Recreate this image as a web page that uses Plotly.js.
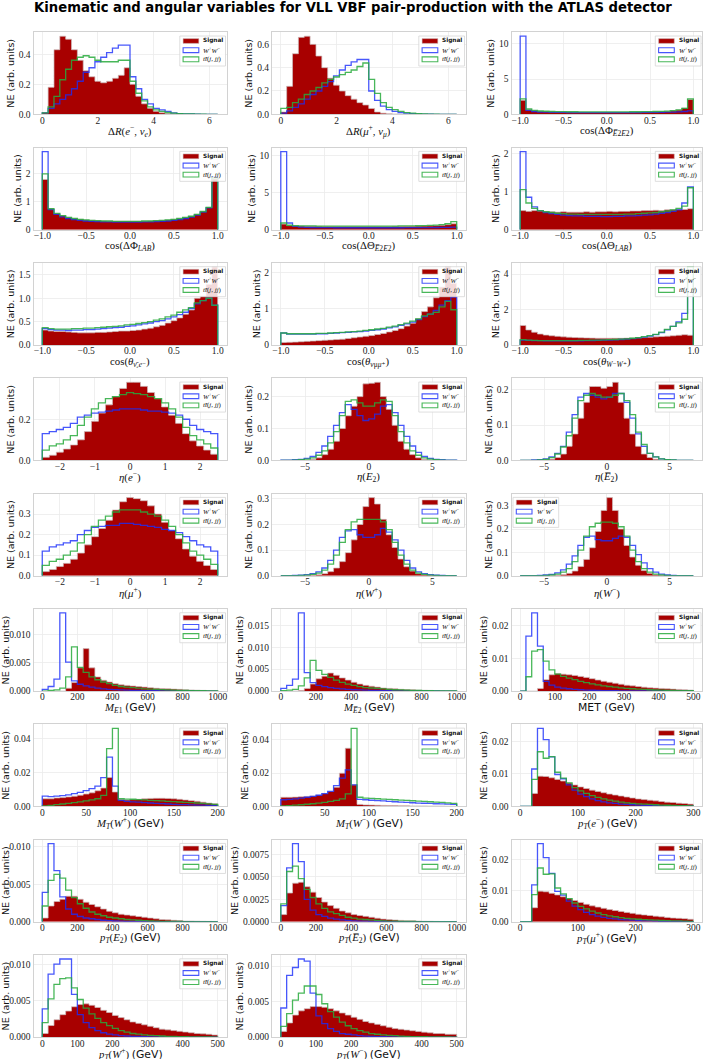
<!DOCTYPE html>
<html>
<head>
<meta charset="utf-8">
<script src="https://cdn.plot.ly/plotly-3.0.1.min.js"></script>
<style>body{margin:0;background:#fff}</style>
</head>
<body>
<div id="fig" style="width:706px;height:1059px"></div>
<script>
// Bin contents (30 bins unless noted)
// Delta R(e-, nu_e), bins 0..6.3
const dRe_sig = [0.01, 0.18, 0.43, 0.52, 0.50, 0.43, 0.36, 0.29, 0.25, 0.22, 0.21, 0.22, 0.24, 0.26, 0.31, 0.20, 0.12, 0.07, 0.04, 0.02, 0.01, 0.005, 0.003, 0.002, 0.001, 0.001, 0, 0, 0, 0];
const dRe_ww = [0.01, 0.04, 0.07, 0.10, 0.13, 0.17, 0.22, 0.28, 0.31, 0.35, 0.38, 0.41, 0.44, 0.46, 0.46, 0.25, 0.17, 0.10, 0.07, 0.04, 0.03, 0.02, 0.01, 0.005, 0.003, 0.002, 0.001, 0, 0, 0];
const dRe_tt = [0.01, 0.05, 0.12, 0.23, 0.30, 0.36, 0.38, 0.39, 0.38, 0.36, 0.35, 0.35, 0.35, 0.36, 0.36, 0.22, 0.14, 0.09, 0.05, 0.03, 0.02, 0.012, 0.008, 0.005, 0.003, 0.002, 0.001, 0.001, 0, 0];
// Delta R(mu+, nu_mu)
const dRm_sig = [0.02, 0.24, 0.52, 0.66, 0.67, 0.60, 0.50, 0.40, 0.31, 0.25, 0.20, 0.16, 0.13, 0.10, 0.08, 0.05, 0.02, 0.01, 0.005, 0.003, 0.002, 0.001, 0, 0, 0, 0, 0, 0, 0, 0];
const dRm_ww = [0.01, 0.03, 0.06, 0.09, 0.13, 0.17, 0.20, 0.24, 0.28, 0.33, 0.38, 0.42, 0.45, 0.47, 0.47, 0.20, 0.12, 0.07, 0.04, 0.025, 0.015, 0.01, 0.005, 0.003, 0.002, 0.001, 0, 0, 0, 0];
const dRm_tt = [0.05, 0.06, 0.10, 0.13, 0.17, 0.20, 0.23, 0.27, 0.30, 0.32, 0.34, 0.36, 0.38, 0.41, 0.44, 0.30, 0.18, 0.10, 0.06, 0.04, 0.025, 0.015, 0.01, 0.005, 0.003, 0.002, 0.001, 0, 0, 0];
// cos(dPhi E2bar E2), bins -1..1
const cPhiEE_sig = [2.0, 0.65, 0.5, 0.42, 0.38, 0.35, 0.33, 0.32, 0.31, 0.30, 0.30, 0.29, 0.29, 0.29, 0.29, 0.29, 0.29, 0.29, 0.30, 0.30, 0.31, 0.32, 0.33, 0.35, 0.38, 0.42, 0.5, 0.62, 0.9, 2.1];
const cPhiEE_ww = [11.1, 0.55, 0.4, 0.33, 0.3, 0.28, 0.27, 0.26, 0.25, 0.25, 0.25, 0.25, 0.25, 0.25, 0.25, 0.25, 0.25, 0.25, 0.25, 0.25, 0.25, 0.26, 0.26, 0.27, 0.28, 0.3, 0.32, 0.35, 0.4, 0.5];
const cPhiEE_tt = [2.2, 0.75, 0.55, 0.47, 0.43, 0.4, 0.38, 0.37, 0.36, 0.36, 0.35, 0.35, 0.35, 0.35, 0.35, 0.35, 0.35, 0.35, 0.35, 0.36, 0.36, 0.37, 0.38, 0.4, 0.42, 0.46, 0.52, 0.62, 0.85, 2.2];
// cos(dPhi LAB)
const cPhiLab_sig = [1.8, 0.75, 0.58, 0.5, 0.44, 0.40, 0.37, 0.35, 0.33, 0.32, 0.31, 0.30, 0.30, 0.30, 0.30, 0.30, 0.30, 0.30, 0.31, 0.32, 0.33, 0.35, 0.37, 0.40, 0.44, 0.48, 0.55, 0.65, 0.8, 1.82];
const cPhiLab_ww = [2.8, 0.72, 0.55, 0.46, 0.40, 0.36, 0.33, 0.31, 0.30, 0.29, 0.28, 0.28, 0.27, 0.27, 0.27, 0.27, 0.27, 0.28, 0.28, 0.29, 0.30, 0.31, 0.33, 0.36, 0.40, 0.45, 0.52, 0.63, 0.78, 1.9];
const cPhiLab_tt = [2.0, 0.75, 0.58, 0.5, 0.44, 0.40, 0.37, 0.35, 0.33, 0.32, 0.31, 0.31, 0.30, 0.30, 0.30, 0.30, 0.30, 0.31, 0.31, 0.32, 0.33, 0.35, 0.37, 0.40, 0.44, 0.48, 0.55, 0.65, 0.8, 1.85];
// cos(dTheta E2bar E2)
const cThEE_sig = [0.75, 0.55, 0.5, 0.48, 0.46, 0.45, 0.45, 0.44, 0.44, 0.44, 0.44, 0.44, 0.44, 0.44, 0.44, 0.44, 0.44, 0.44, 0.44, 0.45, 0.45, 0.46, 0.47, 0.48, 0.5, 0.52, 0.55, 0.6, 0.68, 0.8];
const cThEE_ww = [10.6, 0.9, 0.45, 0.35, 0.31, 0.29, 0.28, 0.27, 0.27, 0.26, 0.26, 0.26, 0.26, 0.26, 0.26, 0.26, 0.26, 0.26, 0.26, 0.26, 0.26, 0.27, 0.27, 0.27, 0.28, 0.28, 0.29, 0.3, 0.32, 0.35];
const cThEE_tt = [0.9, 0.6, 0.55, 0.52, 0.5, 0.5, 0.49, 0.49, 0.48, 0.48, 0.48, 0.48, 0.48, 0.48, 0.48, 0.48, 0.48, 0.48, 0.49, 0.49, 0.5, 0.5, 0.52, 0.53, 0.55, 0.58, 0.62, 0.68, 0.8, 1.1];
// cos(dTheta LAB)
const cThLab_sig = [0.5, 0.48, 0.5, 0.49, 0.47, 0.47, 0.46, 0.47, 0.46, 0.46, 0.46, 0.47, 0.46, 0.47, 0.47, 0.48, 0.47, 0.48, 0.48, 0.49, 0.49, 0.5, 0.5, 0.51, 0.5, 0.52, 0.52, 0.53, 0.53, 0.55];
const cThLab_ww = [2.05, 0.85, 0.6, 0.5, 0.45, 0.42, 0.4, 0.38, 0.37, 0.36, 0.36, 0.35, 0.35, 0.35, 0.34, 0.34, 0.35, 0.35, 0.36, 0.36, 0.37, 0.38, 0.39, 0.41, 0.43, 0.45, 0.48, 0.52, 0.7, 1.12];
const cThLab_tt = [1.05, 0.7, 0.56, 0.5, 0.47, 0.45, 0.43, 0.42, 0.41, 0.41, 0.4, 0.4, 0.4, 0.4, 0.4, 0.4, 0.4, 0.4, 0.41, 0.41, 0.42, 0.43, 0.44, 0.45, 0.47, 0.49, 0.52, 0.56, 0.62, 1.1];
// cos(theta nubar_e e-)
const cThNuE_sig = [0.32, 0.30, 0.29, 0.29, 0.28, 0.27, 0.26, 0.26, 0.26, 0.27, 0.27, 0.28, 0.29, 0.30, 0.30, 0.31, 0.32, 0.34, 0.36, 0.39, 0.42, 0.47, 0.52, 0.58, 0.66, 0.75, 1.0, 1.05, 1.3, 1.67];
const cThNuE_ww = [0.35, 0.33, 0.32, 0.32, 0.31, 0.32, 0.32, 0.33, 0.33, 0.34, 0.35, 0.36, 0.37, 0.38, 0.40, 0.41, 0.43, 0.45, 0.47, 0.5, 0.52, 0.56, 0.6, 0.65, 0.7, 0.78, 0.88, 0.95, 1.0, 0.85];
const cThNuE_tt = [0.37, 0.35, 0.34, 0.34, 0.34, 0.35, 0.35, 0.36, 0.36, 0.37, 0.38, 0.39, 0.40, 0.41, 0.43, 0.44, 0.46, 0.48, 0.50, 0.53, 0.56, 0.6, 0.64, 0.7, 0.75, 0.8, 0.9, 0.95, 1.0, 0.85];
// cos(theta nu_mu mu+)
const cThNuM_sig = [0.07, 0.075, 0.08, 0.09, 0.1, 0.11, 0.12, 0.13, 0.14, 0.15, 0.16, 0.18, 0.2, 0.22, 0.24, 0.26, 0.29, 0.32, 0.36, 0.4, 0.45, 0.52, 0.6, 0.72, 0.92, 1.05, 1.3, 1.6, 2.15, 1.7];
const cThNuM_ww = [0.33, 0.3, 0.3, 0.3, 0.3, 0.3, 0.31, 0.31, 0.32, 0.33, 0.34, 0.35, 0.36, 0.37, 0.38, 0.4, 0.42, 0.44, 0.47, 0.5, 0.54, 0.58, 0.63, 0.7, 0.78, 0.85, 0.95, 1.1, 1.22, 1.32];
const cThNuM_tt = [0.33, 0.31, 0.31, 0.31, 0.31, 0.31, 0.32, 0.32, 0.33, 0.34, 0.35, 0.36, 0.37, 0.38, 0.4, 0.42, 0.44, 0.46, 0.49, 0.52, 0.56, 0.6, 0.66, 0.72, 0.8, 0.85, 0.9, 1.05, 1.2, 0.97];
// cos(theta W- W+)
const cThWW_sig = [1.1, 0.85, 0.72, 0.62, 0.56, 0.52, 0.49, 0.46, 0.44, 0.42, 0.41, 0.4, 0.39, 0.38, 0.38, 0.38, 0.38, 0.38, 0.39, 0.4, 0.41, 0.42, 0.44, 0.46, 0.48, 0.5, 0.52, 0.55, 0.58, 0.55];
const cThWW_ww = [0.28, 0.26, 0.25, 0.25, 0.24, 0.24, 0.24, 0.24, 0.24, 0.24, 0.24, 0.25, 0.25, 0.26, 0.27, 0.28, 0.29, 0.31, 0.33, 0.36, 0.4, 0.44, 0.5, 0.58, 0.7, 0.85, 1.05, 1.3, 1.78, 3.6];
const cThWW_tt = [0.3, 0.27, 0.26, 0.25, 0.25, 0.25, 0.25, 0.25, 0.25, 0.25, 0.26, 0.26, 0.27, 0.28, 0.29, 0.3, 0.31, 0.33, 0.35, 0.38, 0.42, 0.47, 0.53, 0.6, 0.72, 0.88, 1.05, 1.25, 1.45, 4.4];
// eta(e-), 25 bins -2.5..2.5
const etaE_sig = [0.015, 0.025, 0.04, 0.055, 0.075, 0.10, 0.14, 0.19, 0.23, 0.27, 0.31, 0.35, 0.38, 0.38, 0.36, 0.33, 0.30, 0.26, 0.22, 0.18, 0.13, 0.095, 0.07, 0.05, 0.03];
const etaE_ww = [0.13, 0.14, 0.15, 0.16, 0.18, 0.21, 0.22, 0.23, 0.235, 0.24, 0.245, 0.25, 0.25, 0.25, 0.245, 0.24, 0.24, 0.235, 0.23, 0.22, 0.20, 0.17, 0.15, 0.14, 0.13];
const etaE_tt = [0.05, 0.07, 0.08, 0.1, 0.12, 0.17, 0.21, 0.25, 0.28, 0.3, 0.31, 0.32, 0.33, 0.325, 0.32, 0.31, 0.3, 0.28, 0.25, 0.21, 0.16, 0.12, 0.1, 0.08, 0.06];
// eta(E2), bins -6.9..6.9
const etaE2_sig = [0, 0, 0, 0, 0.001, 0.003, 0.008, 0.018, 0.035, 0.06, 0.1, 0.14, 0.17, 0.2, 0.24, 0.242, 0.245, 0.2, 0.16, 0.11, 0.06, 0.035, 0.018, 0.008, 0.003, 0.001, 0, 0, 0, 0];
const etaE2_ww = [0.001, 0.001, 0.002, 0.003, 0.006, 0.012, 0.025, 0.045, 0.075, 0.11, 0.15, 0.175, 0.16, 0.14, 0.125, 0.13, 0.145, 0.17, 0.175, 0.15, 0.11, 0.075, 0.045, 0.025, 0.012, 0.006, 0.003, 0.002, 0.001, 0.001];
const etaE2_tt = [0, 0, 0.001, 0.002, 0.004, 0.008, 0.016, 0.03, 0.055, 0.09, 0.14, 0.185, 0.19, 0.18, 0.17, 0.17, 0.18, 0.19, 0.185, 0.14, 0.09, 0.055, 0.03, 0.016, 0.008, 0.004, 0.002, 0.001, 0, 0];
// eta(E2bar)
const etaE2b_sig = [0, 0, 0, 0, 0.001, 0.003, 0.008, 0.018, 0.04, 0.075, 0.12, 0.165, 0.21, 0.21, 0.205, 0.21, 0.222, 0.165, 0.12, 0.075, 0.04, 0.018, 0.008, 0.003, 0.001, 0, 0, 0, 0, 0];
const etaE2b_ww = [0, 0, 0.001, 0.002, 0.004, 0.01, 0.02, 0.04, 0.08, 0.13, 0.18, 0.19, 0.185, 0.18, 0.175, 0.18, 0.19, 0.19, 0.165, 0.12, 0.075, 0.04, 0.02, 0.01, 0.004, 0.002, 0.001, 0, 0, 0];
const etaE2b_tt = [0, 0, 0, 0.001, 0.003, 0.008, 0.018, 0.038, 0.07, 0.12, 0.17, 0.185, 0.19, 0.185, 0.18, 0.18, 0.185, 0.19, 0.17, 0.13, 0.08, 0.045, 0.02, 0.01, 0.004, 0.002, 0.001, 0, 0, 0];
// eta(mu+), 25 bins -2.5..2.5
const etaMu_sig = [0.02, 0.03, 0.045, 0.06, 0.08, 0.11, 0.15, 0.19, 0.23, 0.27, 0.32, 0.36, 0.38, 0.375, 0.365, 0.34, 0.30, 0.26, 0.22, 0.18, 0.13, 0.095, 0.07, 0.05, 0.03];
const etaMu_ww = [0.12, 0.14, 0.15, 0.16, 0.17, 0.2, 0.22, 0.235, 0.24, 0.245, 0.245, 0.255, 0.255, 0.25, 0.245, 0.24, 0.235, 0.225, 0.22, 0.21, 0.19, 0.17, 0.15, 0.14, 0.12];
const etaMu_tt = [0.05, 0.07, 0.08, 0.1, 0.12, 0.16, 0.2, 0.24, 0.27, 0.29, 0.31, 0.32, 0.32, 0.32, 0.31, 0.3, 0.29, 0.27, 0.24, 0.2, 0.16, 0.12, 0.1, 0.08, 0.055];
// eta(W+)
const etaWp_sig = [0, 0, 0, 0, 0.001, 0.002, 0.004, 0.008, 0.016, 0.03, 0.055, 0.09, 0.14, 0.2, 0.27, 0.305, 0.28, 0.22, 0.16, 0.11, 0.065, 0.035, 0.018, 0.008, 0.004, 0.002, 0.001, 0, 0, 0];
const etaWp_ww = [0, 0, 0.001, 0.002, 0.004, 0.008, 0.015, 0.03, 0.06, 0.1, 0.15, 0.175, 0.18, 0.16, 0.15, 0.15, 0.16, 0.185, 0.17, 0.14, 0.1, 0.06, 0.03, 0.015, 0.008, 0.004, 0.002, 0.001, 0, 0];
const etaWp_tt = [0, 0, 0, 0.001, 0.002, 0.005, 0.01, 0.022, 0.045, 0.08, 0.13, 0.18, 0.21, 0.22, 0.22, 0.22, 0.22, 0.21, 0.18, 0.13, 0.08, 0.045, 0.022, 0.01, 0.005, 0.002, 0.001, 0, 0, 0];
// eta(W-)
const etaWm_sig = [0, 0, 0, 0, 0, 0.001, 0.002, 0.005, 0.01, 0.02, 0.04, 0.07, 0.12, 0.19, 0.28, 0.335, 0.28, 0.2, 0.13, 0.08, 0.045, 0.022, 0.01, 0.004, 0.002, 0.001, 0, 0, 0, 0];
const etaWm_ww = [0, 0, 0, 0.001, 0.003, 0.006, 0.012, 0.025, 0.05, 0.085, 0.13, 0.165, 0.17, 0.155, 0.15, 0.15, 0.16, 0.17, 0.165, 0.13, 0.09, 0.055, 0.03, 0.015, 0.007, 0.003, 0.001, 0, 0, 0];
const etaWm_tt = [0, 0, 0, 0, 0.001, 0.003, 0.007, 0.015, 0.03, 0.06, 0.11, 0.17, 0.21, 0.225, 0.23, 0.23, 0.225, 0.21, 0.17, 0.11, 0.06, 0.03, 0.015, 0.007, 0.003, 0.001, 0, 0, 0, 0];
// M(E1), 0..1000 GeV
const mE1_sig = [0, 0, 0, 0, 0.0005, 0.0015, 0.0041, 0.0075, 0.0041, 0.0025, 0.0019, 0.0016, 0.0013, 0.0011, 0.001, 0.0009, 0.0008, 0.0007, 0.0006, 0.0005, 0.00045, 0.0004, 0.00035, 0.0003, 0.00025, 0.0002, 0.00015, 0.00012, 0.0001, 0.0001];
const mE1_ww = [0.0003, 0.0008, 0.0021, 0.0138, 0.0051, 0.0018, 0.0012, 0.0009, 0.0007, 0.0005, 0.0004, 0.0003, 0.00025, 0.0002, 0.00015, 0.00012, 0.0001, 0.00008, 0.00006, 0.00005, 0.00004, 0.00003, 0.00002, 0.00002, 0.00001, 0.00001, 0, 0, 0, 0];
const mE1_tt = [0, 0.0001, 0.0002, 0.0005, 0.0025, 0.0078, 0.0042, 0.0033, 0.0025, 0.002, 0.0016, 0.0013, 0.001, 0.0008, 0.0007, 0.0006, 0.0005, 0.0004, 0.00035, 0.0003, 0.00025, 0.0002, 0.00015, 0.00012, 0.0001, 0.00008, 0.00006, 0.00005, 0.00004, 0.00003];
// M(E2bar)
const mE2_sig = [0, 0, 0, 0.0001, 0.0006, 0.0016, 0.0028, 0.0034, 0.0041, 0.0036, 0.003, 0.0025, 0.002, 0.0016, 0.0013, 0.0011, 0.0009, 0.0007, 0.0006, 0.0005, 0.0004, 0.00033, 0.00027, 0.00022, 0.00018, 0.00015, 0.00012, 0.0001, 0.00008, 0.00006];
const mE2_ww = [0.0006, 0.0013, 0.0027, 0.0178, 0.0042, 0.0019, 0.0013, 0.001, 0.0008, 0.0006, 0.0005, 0.0004, 0.0003, 0.00025, 0.0002, 0.00015, 0.00012, 0.0001, 0.00008, 0.00006, 0.00005, 0.00004, 0.00003, 0.00002, 0.00002, 0.00001, 0.00001, 0, 0, 0];
const mE2_tt = [0.0001, 0.0002, 0.0004, 0.0012, 0.003, 0.007, 0.0047, 0.0038, 0.0031, 0.0025, 0.002, 0.0016, 0.0013, 0.001, 0.0008, 0.0007, 0.0006, 0.0005, 0.0004, 0.0003, 0.00025, 0.0002, 0.00016, 0.00013, 0.0001, 0.00008, 0.00006, 0.00005, 0.00004, 0.00003];
// MET, 0..500 GeV
const met_sig = [0, 0, 0, 0.0008, 0.0035, 0.005, 0.0054, 0.0052, 0.005, 0.0048, 0.0045, 0.0042, 0.0038, 0.0034, 0.003, 0.0027, 0.0024, 0.0021, 0.0018, 0.0016, 0.0014, 0.0012, 0.001, 0.0009, 0.0008, 0.0007, 0.0006, 0.0005, 0.0004, 0.0003];
const met_ww = [0, 0.0169, 0.024, 0.0138, 0.003, 0.0018, 0.0012, 0.0009, 0.0007, 0.0005, 0.0004, 0.0003, 0.00025, 0.0002, 0.00015, 0.00012, 0.0001, 0.00008, 0.00006, 0.00005, 0.00004, 0.00003, 0.00002, 0.00002, 0.00001, 0.00001, 0, 0, 0, 0];
const met_tt = [0, 0.0044, 0.0123, 0.0127, 0.0092, 0.0065, 0.0052, 0.0045, 0.004, 0.0035, 0.003, 0.0026, 0.0022, 0.0019, 0.0016, 0.0014, 0.0012, 0.001, 0.0008, 0.0007, 0.0006, 0.0005, 0.0004, 0.00033, 0.00027, 0.00022, 0.00018, 0.00014, 0.00011, 0.00009];
// MT(W+), 0..200 GeV
const mtWp_sig = [0.0045, 0.0045, 0.005, 0.0052, 0.0056, 0.006, 0.0066, 0.0073, 0.008, 0.0092, 0.0108, 0.017, 0.0085, 0.004, 0.0038, 0.004, 0.0042, 0.0045, 0.0047, 0.0048, 0.0048, 0.0047, 0.0045, 0.0042, 0.0038, 0.0034, 0.003, 0.0025, 0.002, 0.0016];
const mtWp_ww = [0.006, 0.0058, 0.006, 0.0063, 0.0068, 0.0075, 0.0083, 0.0093, 0.0105, 0.012, 0.017, 0.029, 0.012, 0.0035, 0.003, 0.0027, 0.0025, 0.0022, 0.002, 0.0018, 0.0016, 0.0014, 0.0012, 0.0011, 0.001, 0.0009, 0.0008, 0.0007, 0.0006, 0.0005];
const mtWp_tt = [0.0003, 0.0006, 0.001, 0.0014, 0.0018, 0.0022, 0.0027, 0.0032, 0.0038, 0.0045, 0.0065, 0.034, 0.046, 0.0045, 0.0043, 0.0042, 0.004, 0.0038, 0.0036, 0.0034, 0.0032, 0.003, 0.0028, 0.0026, 0.0024, 0.0022, 0.002, 0.0018, 0.0015, 0.0012];
// MT(W-)
const mtWm_sig = [0.0055, 0.0055, 0.0056, 0.0058, 0.006, 0.0063, 0.0068, 0.0078, 0.009, 0.0115, 0.02, 0.035, 0.013, 0.0012, 0.0009, 0.0008, 0.0007, 0.0006, 0.0005, 0.0005, 0.0004, 0.0004, 0.0003, 0.0003, 0.0003, 0.0002, 0.0002, 0.0002, 0.0001, 0.0001];
const mtWm_ww = [0.004, 0.0042, 0.0045, 0.005, 0.0055, 0.006, 0.0067, 0.0077, 0.009, 0.0125, 0.017, 0.022, 0.013, 0.0042, 0.004, 0.0037, 0.0035, 0.0033, 0.003, 0.0028, 0.0026, 0.0024, 0.0022, 0.002, 0.0019, 0.0018, 0.0016, 0.0015, 0.0014, 0.0012];
const mtWm_tt = [0.0003, 0.0005, 0.0008, 0.001, 0.0013, 0.0016, 0.002, 0.0024, 0.003, 0.0036, 0.0045, 0.0075, 0.047, 0.0055, 0.005, 0.0048, 0.0046, 0.0044, 0.0042, 0.004, 0.0038, 0.0036, 0.0034, 0.0032, 0.003, 0.0028, 0.0026, 0.0024, 0.0021, 0.0018];
// pT(e-), 0..300 GeV
const ptE_sig = [0, 0, 0.004, 0.0093, 0.0092, 0.0088, 0.0083, 0.0078, 0.0072, 0.0066, 0.006, 0.0055, 0.005, 0.0046, 0.0042, 0.0038, 0.0035, 0.0032, 0.0029, 0.0026, 0.0023, 0.0021, 0.0019, 0.0017, 0.0015, 0.0013, 0.0012, 0.001, 0.0009, 0.0007];
const ptE_ww = [0, 0, 0.0115, 0.024, 0.0205, 0.0152, 0.0098, 0.0085, 0.0066, 0.005, 0.0038, 0.003, 0.0023, 0.0018, 0.0014, 0.0011, 0.0009, 0.0007, 0.0006, 0.0005, 0.0004, 0.0003, 0.00025, 0.0002, 0.00016, 0.00013, 0.0001, 0.00008, 0.00006, 0.00005];
const ptE_tt = [0, 0, 0.0083, 0.0168, 0.0148, 0.0153, 0.0105, 0.0087, 0.0072, 0.0058, 0.0048, 0.004, 0.0033, 0.0028, 0.0023, 0.0019, 0.0016, 0.0013, 0.0011, 0.0009, 0.0008, 0.0007, 0.0006, 0.0005, 0.0004, 0.00035, 0.0003, 0.00025, 0.0002, 0.00015];
// pT(E2), 0..1000 GeV
const ptE2_sig = [0.0005, 0.0021, 0.0027, 0.003, 0.0034, 0.0034, 0.003, 0.0026, 0.0023, 0.002, 0.0017, 0.0014, 0.0012, 0.001, 0.0009, 0.0008, 0.0007, 0.0006, 0.0005, 0.0004, 0.0003, 0.00025, 0.0002, 0.00015, 0.0001, 0.0001, 0.00008, 0.00006, 0.00005, 0.00004];
const ptE2_ww = [0.0039, 0.0104, 0.0068, 0.0033, 0.0017, 0.001, 0.0007, 0.0005, 0.0004, 0.0003, 0.0002, 0.00015, 0.0001, 0.00008, 0.00006, 0.00005, 0.00004, 0.00003, 0.00002, 0.00002, 0.00001, 0.00001, 0, 0, 0, 0, 0, 0, 0, 0];
const ptE2_tt = [0.0021, 0.0055, 0.0063, 0.0058, 0.0042, 0.0032, 0.0024, 0.0018, 0.0013, 0.001, 0.0008, 0.0006, 0.0005, 0.0004, 0.0003, 0.00025, 0.0002, 0.00015, 0.0001, 0.00008, 0.00006, 0.00005, 0.00004, 0.00003, 0.00002, 0.00002, 0.00001, 0.00001, 0, 0];
// pT(E2bar)
const ptE2b_sig = [0.0008, 0.0032, 0.0043, 0.0044, 0.0039, 0.0033, 0.0027, 0.0022, 0.0018, 0.0015, 0.0012, 0.001, 0.0008, 0.0007, 0.0006, 0.0005, 0.0004, 0.0003, 0.00025, 0.0002, 0.00015, 0.00012, 0.0001, 0.00008, 0.00006, 0.00005, 0.00004, 0.00003, 0.00002, 0.00002];
const ptE2b_ww = [0.0018, 0.006, 0.0087, 0.0067, 0.0025, 0.0013, 0.0008, 0.0006, 0.0004, 0.0003, 0.0002, 0.00015, 0.0001, 0.00008, 0.00006, 0.00005, 0.00004, 0.00003, 0.00002, 0.00002, 0.00001, 0.00001, 0, 0, 0, 0, 0, 0, 0, 0];
const ptE2b_tt = [0.002, 0.0056, 0.0062, 0.0048, 0.0036, 0.0027, 0.002, 0.0015, 0.0011, 0.0009, 0.0007, 0.0005, 0.0004, 0.0003, 0.00025, 0.0002, 0.00015, 0.0001, 0.00008, 0.00006, 0.00005, 0.00004, 0.00003, 0.00002, 0.00002, 0.00001, 0.00001, 0, 0, 0];
// pT(mu+), 0..300 GeV
const ptMu_sig = [0, 0, 0.0045, 0.0098, 0.0096, 0.0091, 0.0086, 0.008, 0.0074, 0.0068, 0.0062, 0.0056, 0.0051, 0.0047, 0.0043, 0.0039, 0.0036, 0.0033, 0.003, 0.0027, 0.0024, 0.0022, 0.002, 0.0018, 0.0016, 0.0014, 0.0012, 0.0011, 0.001, 0.0008];
const ptMu_ww = [0, 0, 0.0118, 0.025, 0.0205, 0.0155, 0.0097, 0.0085, 0.0066, 0.005, 0.0039, 0.003, 0.0023, 0.0018, 0.0014, 0.0011, 0.0009, 0.0007, 0.0006, 0.0005, 0.0004, 0.0003, 0.00025, 0.0002, 0.00016, 0.00013, 0.0001, 0.00008, 0.00006, 0.00005];
const ptMu_tt = [0, 0, 0.0087, 0.0172, 0.0152, 0.0153, 0.0108, 0.0089, 0.0074, 0.006, 0.0049, 0.0041, 0.0034, 0.0028, 0.0023, 0.0019, 0.0016, 0.0013, 0.0011, 0.0009, 0.0008, 0.0007, 0.0006, 0.0005, 0.0004, 0.00035, 0.0003, 0.00025, 0.0002, 0.00015];
// pT(W+), 0..500 GeV
const ptWp_sig = [0.0005, 0.0016, 0.0024, 0.0031, 0.0036, 0.0042, 0.0045, 0.0046, 0.0044, 0.0041, 0.0037, 0.0034, 0.003, 0.0027, 0.0024, 0.0021, 0.0019, 0.0017, 0.0015, 0.0013, 0.0011, 0.001, 0.0009, 0.0008, 0.0007, 0.0006, 0.0005, 0.00045, 0.0004, 0.0003];
const ptWp_ww = [0.0039, 0.0087, 0.0101, 0.0108, 0.0108, 0.0059, 0.0031, 0.002, 0.0013, 0.0009, 0.0006, 0.0004, 0.0003, 0.0002, 0.00015, 0.0001, 0.00008, 0.00006, 0.00004, 0.00003, 0.00002, 0.00002, 0.00001, 0.00001, 0, 0, 0, 0, 0, 0];
const ptWp_tt = [0.002, 0.0053, 0.0073, 0.0081, 0.0082, 0.0068, 0.0052, 0.004, 0.0032, 0.0026, 0.002, 0.0016, 0.0012, 0.0009, 0.0007, 0.0005, 0.0004, 0.0003, 0.00025, 0.0002, 0.00015, 0.0001, 0.00008, 0.00006, 0.00005, 0.00004, 0.00003, 0.00002, 0.00002, 0.00001];
// pT(W-)
const ptWm_sig = [0.0008, 0.002, 0.0031, 0.0037, 0.004, 0.0043, 0.0043, 0.0042, 0.004, 0.0037, 0.0034, 0.0031, 0.0028, 0.0025, 0.0022, 0.002, 0.0018, 0.0016, 0.0014, 0.0012, 0.0011, 0.001, 0.0009, 0.0008, 0.0007, 0.0006, 0.0005, 0.0005, 0.0004, 0.0004];
const ptWm_ww = [0.0041, 0.0087, 0.0098, 0.011, 0.0107, 0.0062, 0.003, 0.0019, 0.0012, 0.0008, 0.0005, 0.0004, 0.0003, 0.0002, 0.00015, 0.0001, 0.00008, 0.00006, 0.00004, 0.00003, 0.00002, 0.00002, 0.00001, 0.00001, 0, 0, 0, 0, 0, 0];
const ptWm_tt = [0.0015, 0.0033, 0.0052, 0.0062, 0.0072, 0.0072, 0.006, 0.0047, 0.0036, 0.0028, 0.0021, 0.0016, 0.0012, 0.0009, 0.0007, 0.0005, 0.0004, 0.0003, 0.00025, 0.0002, 0.00015, 0.0001, 0.00008, 0.00006, 0.00005, 0.00004, 0.00003, 0.00002, 0.00002, 0.00001];

const GEV = ' <span style="font-family:DejaVu Sans">(GeV)</span>';
const EB = '<i>E̅</i>';

// one entry per subplot: series, bin range, tick steps, x label
const panels = [
  {s: dRe_sig, w: dRe_ww, t: dRe_tt, lo: 0, hi: 6.3, xd: 2, xf: 'd', yd: 0.2, yf: '.1f', lab: 'Δ<i>R</i>(<i>e</i><sup>−</sup>, <i>ν</i><sub><i>e</i></sub>)'},
  {s: dRm_sig, w: dRm_ww, t: dRm_tt, lo: 0, hi: 6.3, xd: 2, xf: 'd', yd: 0.2, yf: '.1f', lab: 'Δ<i>R</i>(<i>μ</i><sup>+</sup>, <i>ν</i><sub><i>μ</i></sub>)'},
  {s: cPhiEE_sig, w: cPhiEE_ww, t: cPhiEE_tt, lo: -1, hi: 1, xd: 0.5, xf: '.1f', yd: 5, yf: 'd', lab: 'cos(ΔΦ<sub>' + EB + '2<i>E</i>2</sub>)'},
  {s: cPhiLab_sig, w: cPhiLab_ww, t: cPhiLab_tt, lo: -1, hi: 1, xd: 0.5, xf: '.1f', yd: 1, yf: 'd', lab: 'cos(ΔΦ<sub><i>LAB</i></sub>)'},
  {s: cThEE_sig, w: cThEE_ww, t: cThEE_tt, lo: -1, hi: 1, xd: 0.5, xf: '.1f', yd: 5, yf: 'd', lab: 'cos(ΔΘ<sub>' + EB + '2<i>E</i>2</sub>)'},
  {s: cThLab_sig, w: cThLab_ww, t: cThLab_tt, lo: -1, hi: 1, xd: 0.5, xf: '.1f', yd: 1, yf: 'd', lab: 'cos(ΔΘ<sub><i>LAB</i></sub>)'},
  {s: cThNuE_sig, w: cThNuE_ww, t: cThNuE_tt, lo: -1, hi: 1, xd: 0.5, xf: '.1f', yd: 0.5, yf: '.1f', lab: 'cos(<i>θ</i><sub><i>ν̄ₑe</i>⁻</sub>)'},
  {s: cThNuM_sig, w: cThNuM_ww, t: cThNuM_tt, lo: -1, hi: 1, xd: 0.5, xf: '.1f', yd: 1, yf: 'd', lab: 'cos(<i>θ</i><sub><i>ν</i>μ<i>μ</i>⁺</sub>)'},
  {s: cThWW_sig, w: cThWW_ww, t: cThWW_tt, lo: -1, hi: 1, xd: 0.5, xf: '.1f', yd: 2, yf: 'd', lab: 'cos(<i>θ</i><sub><i>W</i>⁻<i>W</i>⁺</sub>)'},
  {s: etaE_sig, w: etaE_ww, t: etaE_tt, lo: -2.5, hi: 2.5, xd: 1, xf: 'd', yd: 0.2, yf: '.1f', lab: '<i>η</i>(<i>e</i><sup>−</sup>)'},
  {s: etaE2_sig, w: etaE2_ww, t: etaE2_tt, lo: -6.9, hi: 6.9, xd: 5, xf: 'd', yd: 0.1, yf: '.1f', lab: '<i>η</i>(<i>E</i><sub>2</sub>)'},
  {s: etaE2b_sig, w: etaE2b_ww, t: etaE2b_tt, lo: -6.9, hi: 6.9, xd: 5, xf: 'd', yd: 0.1, yf: '.1f', lab: '<i>η</i>(' + EB + '<sub>2</sub>)'},
  {s: etaMu_sig, w: etaMu_ww, t: etaMu_tt, lo: -2.5, hi: 2.5, xd: 1, xf: 'd', yd: 0.1, yf: '.1f', lab: '<i>η</i>(<i>μ</i><sup>+</sup>)'},
  {s: etaWp_sig, w: etaWp_ww, t: etaWp_tt, lo: -6.9, hi: 6.9, xd: 5, xf: 'd', yd: 0.1, yf: '.1f', lab: '<i>η</i>(<i>W</i><sup>+</sup>)'},
  {s: etaWm_sig, w: etaWm_ww, t: etaWm_tt, lo: -6.9, hi: 6.9, xd: 5, xf: 'd', yd: 0.1, yf: '.1f', lab: '<i>η</i>(<i>W</i><sup>−</sup>)', left: true},
  {s: mE1_sig, w: mE1_ww, t: mE1_tt, lo: 0, hi: 1000, xd: 200, xf: 'd', yd: 0.005, yf: '.3f', lab: '<i>M</i><sub><i>E</i>1</sub>' + GEV},
  {s: mE2_sig, w: mE2_ww, t: mE2_tt, lo: 0, hi: 1000, xd: 200, xf: 'd', yd: 0.005, yf: '.3f', lab: '<i>M</i><sub>' + EB + '2</sub>' + GEV},
  {s: met_sig, w: met_ww, t: met_tt, lo: 0, hi: 500, xd: 100, xf: 'd', yd: 0.01, yf: '.2f', lab: '<span style="font-family:DejaVu Sans">MET (GeV)</span>'},
  {s: mtWp_sig, w: mtWp_ww, t: mtWp_tt, lo: 0, hi: 200, xd: 50, xf: 'd', yd: 0.02, yf: '.2f', lab: '<i>M<sub>T</sub></i>(<i>W</i><sup>+</sup>)' + GEV},
  {s: mtWm_sig, w: mtWm_ww, t: mtWm_tt, lo: 0, hi: 200, xd: 50, xf: 'd', yd: 0.02, yf: '.2f', lab: '<i>M<sub>T</sub></i>(<i>W</i><sup>−</sup>)' + GEV},
  {s: ptE_sig, w: ptE_ww, t: ptE_tt, lo: 0, hi: 300, xd: 100, xf: 'd', yd: 0.01, yf: '.2f', lab: '<i>p<sub>T</sub></i>(<i>e</i><sup>−</sup>)' + GEV},
  {s: ptE2_sig, w: ptE2_ww, t: ptE2_tt, lo: 0, hi: 1000, xd: 200, xf: 'd', yd: 0.005, yf: '.3f', lab: '<i>p<sub>T</sub></i>(<i>E</i><sub>2</sub>)' + GEV},
  {s: ptE2b_sig, w: ptE2b_ww, t: ptE2b_tt, lo: 0, hi: 1000, xd: 200, xf: 'd', yd: 0.0025, yf: '.4f', lab: '<i>p<sub>T</sub></i>(' + EB + '<sub>2</sub>)' + GEV},
  {s: ptMu_sig, w: ptMu_ww, t: ptMu_tt, lo: 0, hi: 300, xd: 100, xf: 'd', yd: 0.01, yf: '.2f', lab: '<i>p<sub>T</sub></i>(<i>μ</i><sup>+</sup>)' + GEV},
  {s: ptWp_sig, w: ptWp_ww, t: ptWp_tt, lo: 0, hi: 500, xd: 100, xf: 'd', yd: 0.005, yf: '.3f', lab: '<i>p<sub>T</sub></i>(<i>W</i><sup>+</sup>)' + GEV},
  {s: ptWm_sig, w: ptWm_ww, t: ptWm_tt, lo: 0, hi: 500, xd: 100, xf: 'd', yd: 0.005, yf: '.3f', lab: '<i>p<sub>T</sub></i>(<i>W</i><sup>−</sup>)' + GEV}
];

const legendNames = ['<b>Signal</b>', '<i>W</i><sup>+</sup><i>W</i><sup>−</sup>', '<i>tt̄</i>(<i>j</i>, <i>jj</i>)'];

const FW = 706, FH = 1059;
const colL = [33.5, 272, 511.5], colR = [226.5, 465.5, 702];
const top0 = 32.3, pitch = 115.35, ph = 82;
const sigColor = '#a80000';
const wwColor = 'rgba(25,45,250,0.8)';
const ttColor = 'rgba(40,170,60,0.85)';
const serif = 'Liberation Serif, DejaVu Serif, serif';

// step outline from bin contents
function stepXY(lo, hi, v) {
  const bw = (hi - lo) / v.length;
  const x = [lo], y = [0];
  v.forEach((val, i) => { x.push(lo + i * bw); y.push(val); });
  x.push(hi); y.push(0);
  return {x, y};
}

const traces = [], shapes = [], annotations = [];
const layout = {
  width: FW, height: FH,
  margin: {l: 0, r: 0, t: 0, b: 0},
  paper_bgcolor: '#fff', plot_bgcolor: '#fff',
  showlegend: false,
  title: {text: '<b>Kinematic and angular variables for VLL VBF pair-production with the ATLAS detector</b>',
          x: 0.5, xanchor: 'center', y: 1 - 7 / FH, yanchor: 'middle',
          font: {family: 'DejaVu Sans', size: 13.2, color: '#000'}}
};

panels.forEach((p, i) => {
  const n = i + 1, r = Math.floor(i / 3), c = i % 3;
  const xa = n === 1 ? 'x' : 'x' + n, ya = n === 1 ? 'y' : 'y' + n;
  const top = top0 + r * pitch;
  const pw = colR[c] - colL[c];

  const s = stepXY(p.lo, p.hi, p.s), w = stepXY(p.lo, p.hi, p.w), t = stepXY(p.lo, p.hi, p.t);
  traces.push({x: s.x, y: s.y, xaxis: xa, yaxis: ya, type: 'scatter', mode: 'lines',
    line: {shape: 'hv', color: 'rgba(205,190,190,0.9)', width: 0.8}, fill: 'tozeroy', fillcolor: sigColor, hoverinfo: 'skip'});
  traces.push({x: w.x, y: w.y, xaxis: xa, yaxis: ya, type: 'scatter', mode: 'lines',
    line: {shape: 'hv', color: wwColor, width: 1.3}, hoverinfo: 'skip'});
  traces.push({x: t.x, y: t.y, xaxis: xa, yaxis: ya, type: 'scatter', mode: 'lines',
    line: {shape: 'hv', color: ttColor, width: 1.3}, hoverinfo: 'skip'});

  const ymax = Math.max(...p.s, ...p.w, ...p.t) * 1.05;
  const pad = 0.05 * (p.hi - p.lo);
  const axBase = {showgrid: true, gridcolor: '#ebebeb', gridwidth: 0.8, zeroline: false,
    showline: true, mirror: true, linecolor: '#d2d2d2', linewidth: 1, ticks: '',
    tickfont: {family: serif, size: 9.5, color: '#222'}, automargin: false, fixedrange: true};
  layout['xaxis' + (n === 1 ? '' : n)] = Object.assign({}, axBase, {
    domain: [colL[c] / FW, colR[c] / FW], anchor: ya,
    range: [p.lo - pad, p.hi + pad], tick0: 0, dtick: p.xd, tickformat: p.xf,
    ticklabelstandoff: -3
  });
  layout['yaxis' + (n === 1 ? '' : n)] = Object.assign({}, axBase, {
    domain: [1 - (top + ph) / FH, 1 - top / FH], anchor: xa,
    range: [0, ymax], tick0: 0, dtick: p.yd, tickformat: p.yf,
    title: {text: 'NE (arb. units)', standoff: 2, font: {family: 'DejaVu Sans', size: 9.5, color: '#111'}}
  });

  const xr = xa + ' domain', yr = ya + ' domain';
  // x label placed under the tick labels
  annotations.push({xref: xr, yref: yr, x: 0.5, y: 0, yshift: -16.5, xanchor: 'center', yanchor: 'middle',
    text: p.lab, showarrow: false, font: {family: serif, size: 10.8, color: '#111'}});

  // legend box drawn in the axes' own domain space
  const bx0 = p.left ? 1.5 : pw - 46.7, bx1 = bx0 + 45.7;
  shapes.push({type: 'rect', xref: xr, yref: yr, x0: bx0 / pw, x1: bx1 / pw,
    y0: 1 - 33.7 / ph, y1: 1 - 3.7 / ph, fillcolor: 'rgba(255,255,255,0.85)', line: {color: '#d5d5d5', width: 0.8}});
  const rows = [8.7, 17.9, 27.0];
  const sw = [
    {fill: sigColor, line: 'rgba(205,190,190,0.9)'},
    {fill: 'rgba(0,0,0,0)', line: wwColor},
    {fill: 'rgba(0,0,0,0)', line: ttColor}
  ];
  rows.forEach((ry, k) => {
    shapes.push({type: 'rect', xref: xr, yref: yr, x0: (bx0 + 3.3) / pw, x1: (bx0 + 19) / pw,
      y0: 1 - (ry + 2.4) / ph, y1: 1 - (ry - 2.4) / ph, fillcolor: sw[k].fill, line: {color: sw[k].line, width: k === 0 ? 0.6 : 1.1}});
    annotations.push({xref: xr, yref: yr, x: (bx0 + 21.5) / pw, y: 1 - ry / ph, xanchor: 'left', yanchor: 'middle',
      text: legendNames[k], showarrow: false,
      font: k === 0 ? {family: 'DejaVu Sans', size: 5.8, color: '#111'} : {family: serif, size: 7, color: '#111'}});
  });
});

layout.shapes = shapes;
layout.annotations = annotations;

Plotly.newPlot('fig', traces, layout, {displayModeBar: false, staticPlot: true});
</script>
</body>
</html>
